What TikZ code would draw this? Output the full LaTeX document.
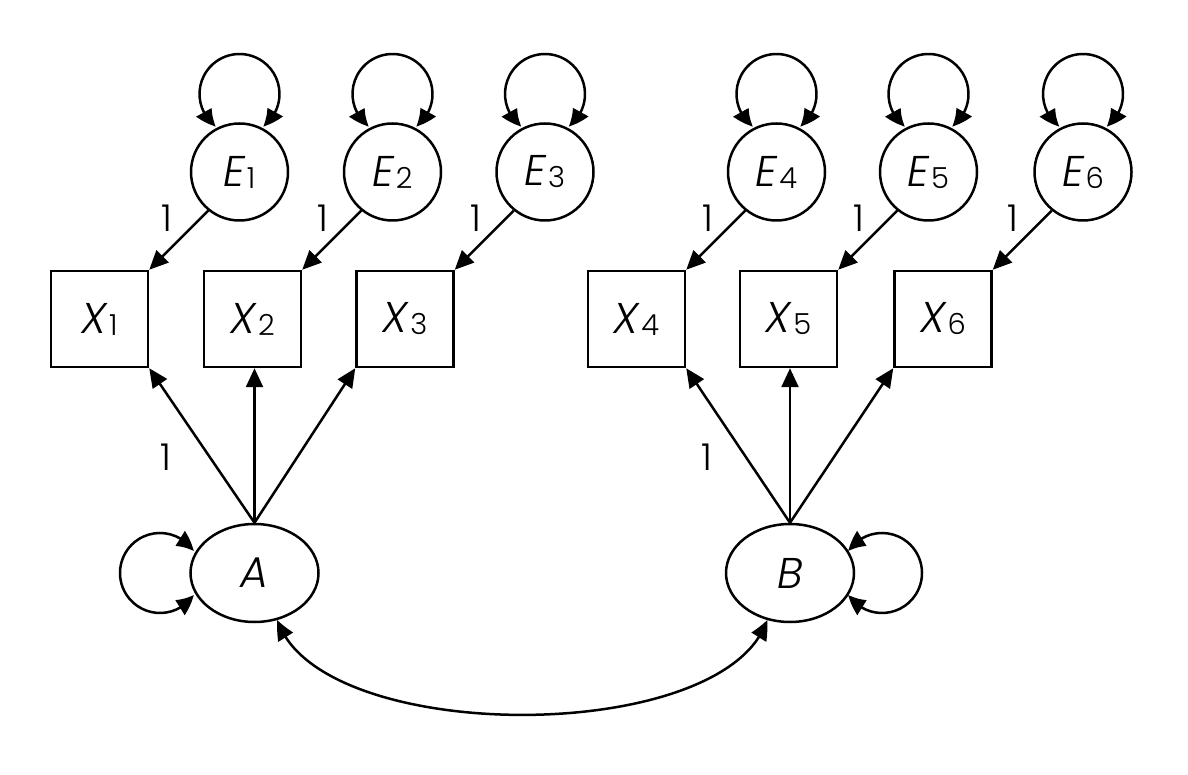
\documentclass[tikz,border=0pt]{standalone}
\usepackage{fontspec}
\setmainfont{Poppins}[UprightFont=* Light,ItalicFont=* Light Italic]
\usetikzlibrary{shapes.geometric,arrows.meta,bending,calc}
\newcommand\symb[2]{\textit{#1}\kern1pt\raisebox{-2pt}{\fontsize{29}{29}\selectfont #2}}
\begin{document}
\begin{tikzpicture}[x=1pt,y=1pt,
  every node/.style={font=\fontsize{43}{43}\selectfont},
  errc/.style={circle,draw,line width=2.5pt,minimum size=97pt,inner sep=0pt},
  obs/.style={rectangle,draw,line width=2.5pt,minimum width=97pt,minimum height=96pt,inner sep=0pt},
  lat/.style={ellipse,draw,line width=2.5pt,minimum width=128pt,minimum height=98pt,inner sep=0pt},
  arr/.style={line width=2.5pt,-{Triangle[length=19pt,width=17pt]}},
  darr/.style={line width=2.5pt,{Triangle[length=19pt,width=17pt,bend]}-{Triangle[length=19pt,width=17pt,bend]}},
  lbl/.style={font=\fontsize{37}{37}\selectfont,inner sep=0pt}]
\useasboundingbox (0,0) rectangle (1188,774);
% observed
\node[obs] (X1) at (99.5,455) {\symb{X}{1}};
\node[obs] (X2) at (252.5,455) {\symb{X}{2}};
\node[obs] (X3) at (405,455) {\symb{X}{3}};
\node[obs] (X4) at (636.5,455) {\symb{X}{4}};
\node[obs] (X5) at (788.5,455) {\symb{X}{5}};
\node[obs] (X6) at (943,455) {\symb{X}{6}};
% errors
\node[errc] (E1) at (239.5,602) {\symb{E}{1}};
\node[errc] (E2) at (392.5,602) {\symb{E}{2}};
\node[errc] (E3) at (545,602) {\symb{E}{3}};
\node[errc] (E4) at (776.5,602) {\symb{E}{4}};
\node[errc] (E5) at (928.5,602) {\symb{E}{5}};
\node[errc] (E6) at (1083,602) {\symb{E}{6}};
% latent
\node[lat] (A) at (254.5,201) {\textit{A}};
\node[lat] (B) at (790,201) {\textit{B}};
% labels
\node[lbl] (l1) at (167,556) {1};
\node[lbl] (l2) at (323,556) {1};
\node[lbl] (l3) at (476,556) {1};
\node[lbl] (l4) at (708,556) {1};
\node[lbl] (l5) at (859,556) {1};
\node[lbl] (l6) at (1013,556) {1};
\node[lbl] (la) at (166,317) {1};
\node[lbl] (lb) at (707,317) {1};
% error paths and variances
\foreach \i in {1,...,6}{
  \draw[arr] (E\i.231) -- (X\i.north east);
  \coordinate (c\i) at ($(E\i)+(0,78)$);
  \draw[darr] (c\i) ++(234:40) arc[start angle=234,end angle=-54,radius=40];
}
% loadings
\draw[arr] (A.north) -- (X1.south east);
\draw[arr] (A.north) -- (A.north |- X2.south);
\draw[arr] (A.north) -- (X3.south west);
\draw[arr] (B.north) -- (X4.south east);
\draw[arr] (B.north) -- (B.north |- X5.south);
\draw[arr] (B.north) -- (X6.south west);
% latent variances
\coordinate (cA) at ($(A)+(-94.5,0)$);
\coordinate (cB) at ($(B)+(92,0)$);
\draw[darr] (cA) ++(33:40) arc[start angle=33,end angle=327,radius=40];
\draw[darr] (cB) ++(147:40) arc[start angle=147,end angle=-147,radius=40];
% covariance
\draw[darr] (A.296) .. controls +(-72:133) and +(-108:133) .. (B.244);
\end{tikzpicture}
\end{document}
